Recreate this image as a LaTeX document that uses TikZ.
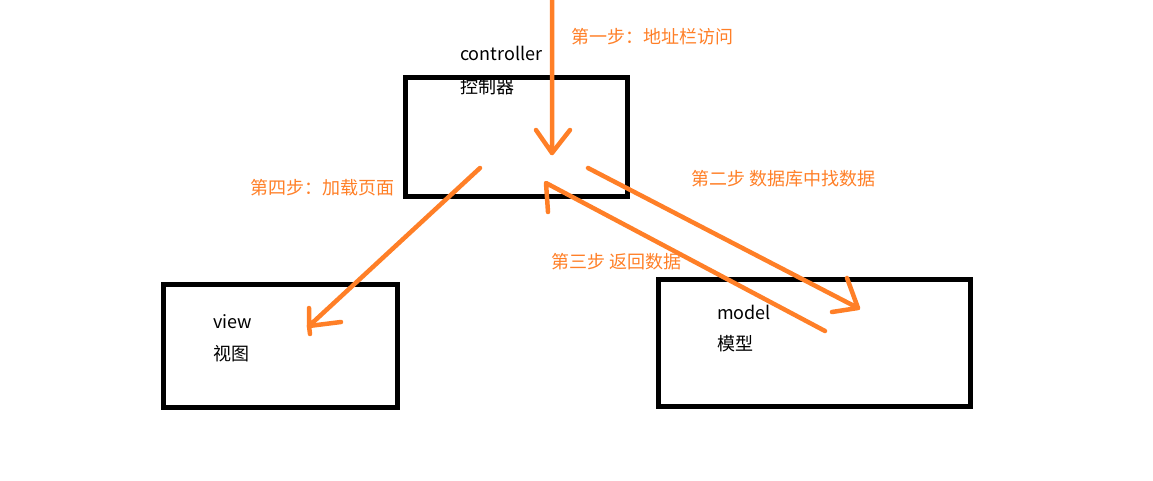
\documentclass[tikz,border=0pt]{standalone}
\usepackage{fontspec}
\setmainfont{Noto Sans CJK SC}
\usetikzlibrary{calc,positioning}
\definecolor{paintorange}{RGB}{255,127,39}
\begin{document}
\begin{tikzpicture}[x=1pt,y=-1pt]

    \tikzstyle{box}=[draw,line width=5pt,outer sep=0pt,inner sep=0pt]
    \tikzstyle{brush}=[paintorange,line width=4.5pt,line cap=round,line join=round]
    \tikzstyle{box text}=[anchor=base west,inner sep=0pt,font=\fontsize{18}{22}\selectfont]
    \tikzstyle{step label}=[anchor=west,inner sep=0pt,text=paintorange,font=\fontsize{18}{22}\selectfont]
      \coordinate (origo) at (0,0);

\useasboundingbox (origo) rectangle (1153,481);

\node (controller) [box,minimum width=222pt,minimum height=119pt] at (516,137.5) {};
\node (view) [box,minimum width=234pt,minimum height=123pt] at (280,345.5) {};
\node (model) [box,minimum width=312pt,minimum height=127pt] at (814,342.5) {};

\node (controller_en) [box text] at (460,61) {controller};
\node (controller_zh) [box text] at (460,94) {控制器};
\node (view_en) [box text] at (213,328) {view};
\node (view_zh) [box text] at (213,360) {视图};
\node (model_en) [box text] at (717,319) {model};
\node (model_zh) [box text] at (717,350) {模型};

\node (step1) [step label] at (571,37) {第一步：地址栏访问};
\node (step2) [step label] at (691,178.5) {第二步 数据库中找数据};
\node (step3) [step label] at (551,261.5) {第三步 返回数据};
\node (step4) [step label] at (250,187.5) {第四步：加载页面};

\coordinate (url) at (552,0);
\coordinate (ctrl_in) at (552,153);
\coordinate (ctrl_query) at (588,168);
\coordinate (model_in) at (858,308);
\coordinate (model_out) at (825,331);
\coordinate (ctrl_back) at (546,183);
\coordinate (ctrl_load) at (480,168);
\coordinate (view_in) at (309,326);

\draw[brush] (url) -- (ctrl_in) --++(-16,-23);
\draw[brush] (ctrl_in) --++(18,-23);

\draw[brush] (ctrl_query) -- (model_in) --++(-11,-30);
\draw[brush] (model_in) --++(-26,4);

\draw[brush] (model_out) -- (ctrl_back) --++(2,29);

\draw[brush] (ctrl_load) -- (view_in) --++(0,-18);
\draw[brush] (view_in) --++(1,8);
\draw[brush] (view_in) --++(32,-4);

\end{tikzpicture}
\end{document}
